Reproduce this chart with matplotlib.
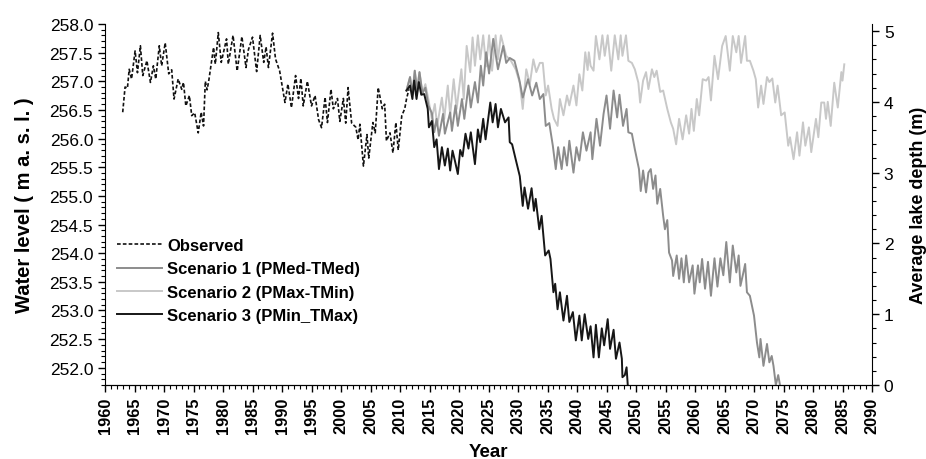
import numpy as np
import matplotlib
matplotlib.use("Agg")
import matplotlib.pyplot as plt
from matplotlib.ticker import MultipleLocator, FormatStrFormatter

plt.rcParams["font.family"] = ["Liberation Sans", "DejaVu Sans"]

# observed water level (m a.s.l.), left axis
obs_year = [1963.0, 1963.4, 1963.8, 1964.1, 1964.5, 1965.1, 1965.5, 1966.0, 1966.4, 1967.1,
            1967.7, 1968.2, 1968.6, 1969.2, 1969.6, 1970.2, 1970.8, 1971.3, 1971.7, 1972.4,
            1973.0, 1973.3, 1973.7, 1974.3, 1974.7, 1975.2, 1975.8, 1976.3, 1976.7, 1977.0,
            1977.3, 1977.6, 1978.4, 1978.7, 1979.2, 1979.7, 1980.6, 1980.9, 1981.7, 1982.4,
            1983.2, 1983.9, 1984.3, 1985.0, 1985.7, 1986.3, 1986.9, 1987.3, 1987.7, 1988.4,
            1988.9, 1989.6, 1990.5, 1991.0, 1991.6, 1992.3, 1992.8, 1993.2, 1993.6, 1994.3,
            1995.0, 1995.6, 1996.2, 1996.7, 1997.3, 1997.7, 1998.3, 1998.7, 1999.4, 1999.8,
            2000.4, 2000.8, 2001.2, 2001.8, 2002.5, 2002.9, 2003.2, 2003.8, 2004.4, 2004.7,
            2005.4, 2005.8, 2006.3, 2007.0, 2007.4, 2007.7, 2008.3, 2008.8, 2009.3, 2009.7,
            2010.3, 2010.8, 2011.1, 2011.5]
obs_level = [256.46, 256.90, 256.88, 257.21, 257.04, 257.53, 257.15, 257.62, 257.10, 257.36,
             256.98, 257.27, 257.04, 257.62, 257.27, 257.67, 257.13, 257.20, 256.69, 257.04,
             256.86, 256.98, 256.57, 256.75, 256.40, 256.45, 256.10, 256.46, 256.22, 257.00,
             256.85, 257.02, 257.59, 257.30, 257.85, 257.33, 257.74, 257.30, 257.80, 257.18,
             257.78, 257.24, 257.55, 257.77, 257.17, 257.80, 257.33, 257.60, 257.24, 257.84,
             257.39, 257.18, 256.63, 256.95, 256.54, 257.10, 256.70, 257.05, 256.57, 257.00,
             256.57, 256.75, 256.33, 256.19, 256.72, 256.28, 256.86, 256.52, 256.70, 256.30,
             256.70, 256.27, 256.89, 256.27, 256.20, 255.98, 256.25, 255.52, 256.07, 255.66,
             256.28, 256.10, 256.89, 256.52, 256.60, 255.96, 256.10, 255.75, 256.28, 255.80,
             256.40, 256.52, 256.69, 256.86]

# scenario 1 (PMed-TMed), average depth (m), right axis
s1_year = [2011.1, 2011.7, 2012.1, 2012.5, 2012.9, 2013.3, 2013.8, 2014.3, 2014.8, 2015.4,
           2015.8, 2016.2, 2016.6, 2017.3, 2017.6, 2018.5, 2018.8, 2019.4, 2019.8, 2020.5,
           2020.9, 2021.6, 2022.0, 2022.7, 2023.2, 2023.7, 2024.1, 2024.6, 2025.1, 2025.8,
           2026.6, 2027.5, 2028.0, 2028.6, 2029.4, 2030.2, 2030.8, 2031.7, 2032.4, 2033.1,
           2033.7, 2034.3, 2034.7, 2035.3, 2035.9, 2036.4, 2036.8, 2037.4, 2037.8, 2038.3,
           2038.7, 2039.4, 2039.9, 2040.4, 2041.0, 2041.6, 2042.3, 2042.6, 2043.3, 2043.9,
           2044.5, 2045.0, 2045.6, 2046.2, 2046.8, 2047.2, 2047.8, 2048.4, 2048.7, 2049.3,
           2049.8, 2050.5, 2050.8, 2051.2, 2051.7, 2052.1, 2052.5, 2052.9, 2053.3, 2053.6,
           2054.1, 2054.6, 2054.9, 2055.3, 2055.6, 2056.1, 2056.3, 2056.9, 2057.3, 2057.7,
           2058.1, 2058.5, 2059.0, 2059.6, 2059.9, 2060.5, 2060.8, 2061.2, 2061.7, 2062.2,
           2062.7, 2063.3, 2063.8, 2064.3, 2064.8, 2065.3, 2065.9, 2066.4, 2067.0, 2067.4,
           2067.7, 2068.2, 2068.5, 2068.8, 2069.3, 2070.0, 2070.5, 2070.9, 2071.1, 2071.6,
           2072.2, 2072.6, 2073.0, 2073.3, 2073.7, 2074.1, 2074.4]
s1_depth = [4.16, 4.35, 4.10, 4.44, 4.15, 4.42, 4.12, 4.20, 3.95, 3.84,
            3.57, 3.76, 3.52, 3.83, 3.55, 3.85, 3.59, 3.95, 3.66, 4.04,
            3.76, 4.23, 3.92, 4.28, 3.99, 4.51, 4.23, 4.70, 4.40, 4.89,
            4.46, 4.79, 4.55, 4.62, 4.58, 4.32, 4.06, 4.32, 4.09, 4.27,
            4.04, 4.11, 3.66, 3.70, 3.38, 3.05, 3.36, 3.05, 3.36, 3.10,
            3.45, 3.00, 3.36, 3.17, 3.57, 3.31, 3.57, 3.19, 3.76, 3.38,
            3.83, 4.09, 3.62, 4.16, 3.78, 4.10, 3.66, 3.90, 3.57, 3.55,
            3.33, 3.05, 2.74, 3.03, 2.72, 3.00, 3.05, 2.77, 2.96, 2.56,
            2.77, 2.39, 2.20, 2.33, 1.87, 1.76, 1.54, 1.83, 1.50, 1.79,
            1.45, 1.83, 1.45, 1.69, 1.29, 1.69, 1.45, 1.78, 1.36, 1.74,
            1.26, 1.79, 1.39, 1.79, 1.55, 2.02, 1.45, 1.97, 1.59, 1.83,
            1.40, 1.59, 1.71, 1.31, 1.26, 0.98, 0.60, 0.39, 0.65, 0.27,
            0.58, 0.32, 0.41, 0.27, 0.00, 0.14, 0.00]

# scenario 2 (PMax-TMin)
s2_year = [2011.1, 2011.7, 2012.1, 2012.5, 2012.9, 2013.3, 2013.8, 2014.3, 2014.8, 2015.4,
           2015.9, 2016.3, 2017.1, 2017.5, 2018.1, 2018.5, 2019.1, 2019.6, 2020.4, 2020.8,
           2021.3, 2021.9, 2022.3, 2022.7, 2023.2, 2023.6, 2024.1, 2024.6, 2025.1, 2025.6,
           2026.2, 2026.6, 2027.1, 2028.0, 2028.8, 2029.6, 2030.3, 2030.8, 2031.4, 2032.0,
           2032.6, 2033.1, 2033.7, 2034.2, 2034.7, 2035.1, 2035.7, 2036.1, 2036.7, 2037.1,
           2037.7, 2038.3, 2038.7, 2039.4, 2039.9, 2040.4, 2040.9, 2041.4, 2041.8, 2042.0,
           2042.3, 2042.8, 2043.2, 2043.8, 2044.3, 2044.7, 2045.2, 2045.8, 2046.4, 2047.0,
           2047.4, 2047.7, 2048.3, 2048.7, 2049.3, 2049.8, 2050.4, 2050.7, 2051.2, 2051.7,
           2052.1, 2052.7, 2053.1, 2053.5, 2054.1, 2054.6, 2055.3, 2055.9, 2056.3, 2056.8,
           2057.3, 2057.9, 2058.5, 2059.0, 2059.4, 2059.8, 2060.3, 2060.7, 2061.3, 2061.9,
           2062.3, 2062.7, 2063.3, 2063.9, 2064.6, 2065.2, 2065.9, 2066.4, 2067.0, 2067.4,
           2067.8, 2068.5, 2068.8, 2069.3, 2069.9, 2070.3, 2070.7, 2071.2, 2071.6, 2072.2,
           2072.6, 2073.1, 2073.6, 2074.0, 2074.6, 2075.2, 2075.8, 2076.1, 2076.7, 2077.3,
           2077.7, 2078.3, 2078.7, 2079.3, 2079.7, 2080.5, 2080.9, 2081.4, 2081.9, 2082.2,
           2082.5, 2083.0, 2083.6, 2084.2, 2084.8, 2085.0, 2085.3]
s2_depth = [4.16, 4.35, 4.10, 4.44, 4.15, 4.42, 4.12, 4.25, 4.04, 3.76,
            3.97, 3.66, 4.06, 3.76, 4.23, 3.81, 4.32, 3.90, 4.46, 4.04,
            4.79, 4.42, 4.91, 4.51, 4.94, 4.60, 4.94, 4.50, 4.94, 4.44,
            4.94, 4.60, 4.94, 4.65, 4.58, 4.46, 4.27, 3.90, 4.46, 4.25,
            4.60, 4.42, 4.55, 4.55, 4.09, 4.23, 3.90, 3.76, 3.66, 4.04,
            3.81, 4.09, 3.95, 4.23, 3.95, 4.39, 4.16, 4.70, 4.45, 4.70,
            4.51, 4.44, 4.93, 4.60, 4.94, 4.65, 4.94, 4.44, 4.94, 4.60,
            4.94, 4.65, 4.94, 4.58, 4.55, 4.46, 4.27, 3.99, 4.30, 4.42,
            4.18, 4.46, 4.35, 4.44, 4.14, 4.16, 3.90, 3.71, 3.62, 3.40,
            3.76, 3.47, 3.81, 3.55, 3.90, 3.59, 4.04, 3.81, 4.32, 4.30,
            4.35, 4.02, 4.65, 4.32, 4.79, 4.93, 4.44, 4.93, 4.70, 4.93,
            4.55, 4.93, 4.58, 4.58, 4.44, 4.32, 3.92, 4.23, 3.97, 4.35,
            4.28, 4.33, 3.99, 4.23, 3.81, 3.85, 3.38, 3.50, 3.19, 3.57,
            3.24, 3.71, 3.38, 3.64, 3.29, 3.76, 3.50, 3.99, 3.99, 3.76,
            4.00, 3.66, 4.27, 3.92, 4.42, 4.30, 4.53]

# scenario 3 (PMin_TMax)
s3_year = [2011.1, 2011.7, 2012.1, 2012.4, 2012.8, 2013.2, 2013.6, 2014.1, 2014.7, 2014.9,
           2015.4, 2015.8, 2016.2, 2016.6, 2017.1, 2017.6, 2018.1, 2018.5, 2018.9, 2019.3,
           2019.8, 2020.2, 2020.6, 2021.1, 2021.6, 2022.0, 2022.7, 2023.2, 2023.6, 2024.1,
           2024.5, 2025.3, 2025.7, 2026.2, 2026.6, 2027.1, 2027.8, 2028.4, 2028.6, 2029.0,
           2029.6, 2030.3, 2030.8, 2031.1, 2031.7, 2032.3, 2032.7, 2033.0, 2033.6, 2034.0,
           2034.6, 2035.2, 2035.5, 2036.0, 2036.3, 2036.7, 2037.1, 2037.7, 2038.3, 2038.7,
           2039.3, 2039.8, 2040.4, 2040.8, 2041.3, 2041.9, 2042.3, 2042.8, 2043.2, 2043.7,
           2044.2, 2044.6, 2045.2, 2045.6, 2046.2, 2046.6, 2047.2, 2047.6, 2047.7, 2048.1,
           2048.4, 2048.6]
s3_depth = [4.16, 4.23, 4.04, 4.30, 4.04, 4.28, 4.10, 4.11, 3.90, 3.64,
            3.73, 3.36, 3.47, 3.05, 3.36, 3.10, 3.34, 3.03, 3.31, 3.17,
            2.98, 3.32, 3.23, 3.55, 3.34, 3.57, 3.12, 3.61, 3.43, 3.76,
            3.47, 3.99, 3.71, 3.97, 3.64, 3.90, 3.71, 3.78, 3.43, 3.40,
            3.19, 2.95, 2.53, 2.79, 2.49, 2.78, 2.46, 2.63, 2.20, 2.39,
            1.83, 1.90, 1.78, 1.31, 1.43, 1.07, 1.31, 0.91, 1.26, 0.89,
            1.03, 0.63, 0.98, 0.63, 1.00, 0.65, 0.83, 0.39, 0.85, 0.39,
            0.80, 0.56, 0.93, 0.51, 0.78, 0.37, 0.60, 0.37, 0.11, 0.14,
            0.25, 0.00]

labels = ["Observed", "Scenario 1 (PMed-TMed)", "Scenario 2 (PMax-TMin)", "Scenario 3 (PMin_TMax)"]

fig = plt.figure(figsize=(9.26, 4.6), dpi=100)
ax = fig.add_axes([0.1134, 0.1609, 0.8283, 0.7848])
ax2 = ax.twinx()

l0, = ax.plot(obs_year, obs_level, color="#111111", lw=1.2, linestyle=(0, (2.2, 1.3)))
l2, = ax2.plot(s2_year, s2_depth, color="#c8c8c8", lw=1.4)
l1, = ax2.plot(s1_year, s1_depth, color="#8c8c8c", lw=1.4)
l3, = ax2.plot(s3_year, s3_depth, color="#161616", lw=1.4)

ax.set_xlim(1960, 2090)
ax.set_ylim(251.7, 258.0)
ax2.set_ylim(0, 5.1)

for a in (ax, ax2):
    a.spines["top"].set_visible(False)
ax.spines["right"].set_visible(False)
ax2.spines["left"].set_visible(False)

ax.xaxis.set_major_locator(MultipleLocator(5))
ax.xaxis.set_minor_locator(MultipleLocator(1))
ax.yaxis.set_major_locator(MultipleLocator(0.5))
ax.yaxis.set_minor_locator(MultipleLocator(0.1))
ax.yaxis.set_major_formatter(FormatStrFormatter("%.1f"))
ax2.yaxis.set_major_locator(MultipleLocator(1))
ax2.yaxis.set_minor_locator(MultipleLocator(0.2))

ax.tick_params(axis="both", which="major", direction="out", length=5, width=1)
ax.tick_params(axis="both", which="minor", direction="out", length=3, width=0.8)
ax2.tick_params(axis="y", which="major", direction="out", length=5, width=1)
ax2.tick_params(axis="y", which="minor", direction="out", length=3, width=0.8)

for t in ax.get_xticklabels():
    t.set_rotation(90)
    t.set_fontweight("bold")
    t.set_fontsize(11.8)
for t in ax.get_yticklabels() + ax2.get_yticklabels():
    t.set_fontsize(12.5)

ax.set_xlabel("Year", fontsize=13.5, fontweight="bold", labelpad=7)
ax.set_ylabel("Water level ( m a. s. l. )", fontsize=14.5, fontweight="bold", labelpad=11)
ax2.set_ylabel("Average lake depth (m)", fontsize=13, fontweight="bold", labelpad=12)

ax2.legend([l0, l1, l2, l3], labels, loc="upper left", bbox_to_anchor=(0.005, 0.43),
           frameon=False, handlelength=2.7, handletextpad=0.3, labelspacing=0.5,
           borderpad=0, prop={"weight": "bold", "size": 12})

fig.savefig("out.png", dpi=100)
